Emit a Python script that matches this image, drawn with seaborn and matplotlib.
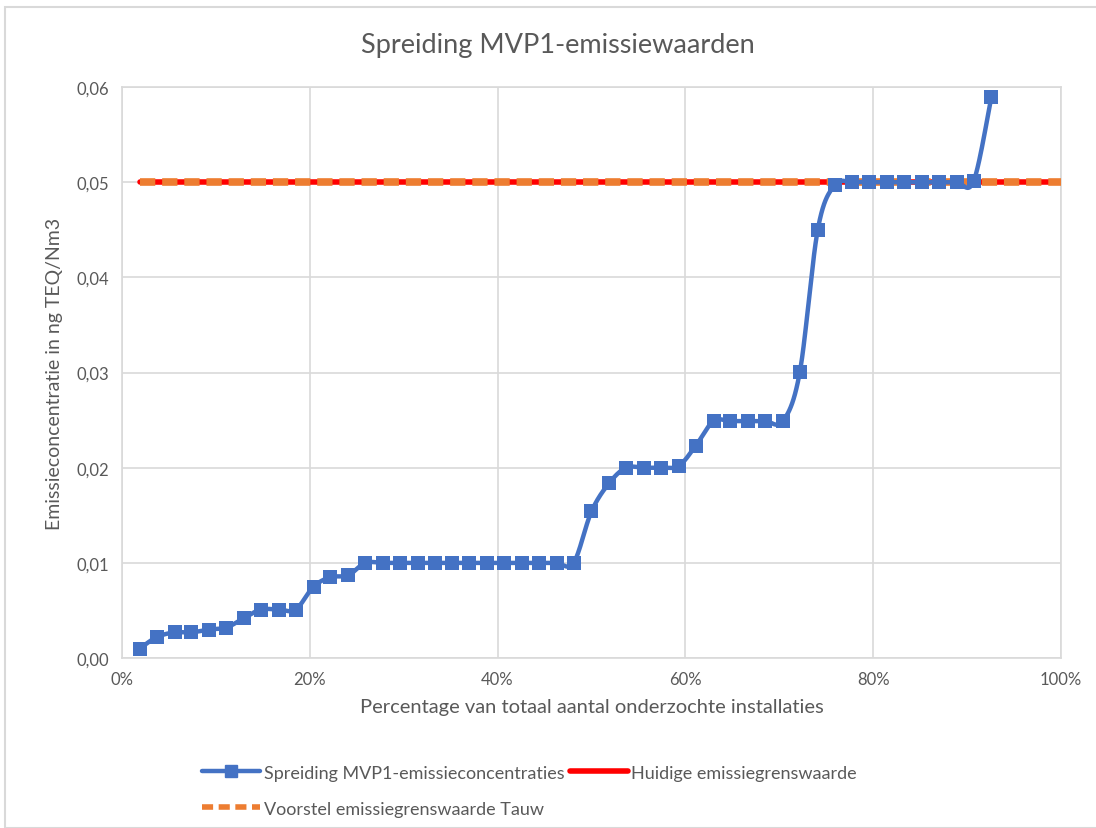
# -*- coding: utf-8 -*-
"""
Spreiding MVP1-emissiewaarden: gesorteerde emissieconcentraties per installatie
"""

# Imports
import numpy as np
import matplotlib
matplotlib.use('Agg')
import matplotlib.pyplot as plt
from matplotlib.lines import Line2D
from matplotlib.patches import Rectangle
from matplotlib.ticker import FuncFormatter, MultipleLocator
import seaborn as sns

# Data
percentage = [1.9, 3.7, 5.6, 7.4, 9.3, 11.1, 13.0, 14.8, 16.7, 18.5,
              20.4, 22.2, 24.1, 25.9, 27.8, 29.6, 31.5, 33.3, 35.2, 37.0,
              38.9, 40.7, 42.6, 44.4, 46.3, 48.1, 50.0, 51.9, 53.7, 55.6,
              57.4, 59.3, 61.1, 63.0, 64.8, 66.7, 68.5, 70.4, 72.2, 74.1,
              75.9, 77.8, 79.6, 81.5, 83.3, 85.2, 87.0, 88.9, 90.7, 92.6]
concentratie = [0.0010, 0.0022, 0.0027, 0.0027, 0.0030, 0.0032, 0.0042, 0.0051, 0.0051, 0.0051,
                0.0075, 0.0085, 0.0087, 0.0100, 0.0100, 0.0100, 0.0100, 0.0100, 0.0100, 0.0100,
                0.0100, 0.0100, 0.0100, 0.0100, 0.0100, 0.0100, 0.0154, 0.0184, 0.0200, 0.0200,
                0.0200, 0.0202, 0.0223, 0.0249, 0.0249, 0.0249, 0.0249, 0.0249, 0.0301, 0.0450,
                0.0497, 0.0500, 0.0500, 0.0500, 0.0500, 0.0500, 0.0500, 0.0500, 0.0501, 0.0590]
grens_x = [1.9, 100.0]
huidige_grens = [0.05, 0.05]
voorstel_tauw = [0.05, 0.05]

BLAUW = '#4472c4'
ROOD = '#ff0000'
ORANJE = '#ed7d31'
GRIJS = '#595959'
RASTER = '#d9d9d9'


def excel_smooth(x, y, steps=24):
    ''' Excel-achtige gladde lijn (Catmull-Rom / Bezier) door de punten'''
    x = np.asarray(x, float)
    y = np.asarray(y, float)
    px = np.concatenate([[x[0]], x, [x[-1]]])
    py = np.concatenate([[y[0]], y, [y[-1]]])
    xs, ys = [], []
    t = np.linspace(0, 1, steps, endpoint=False)
    for i in range(1, len(px) - 2):
        p0 = np.array([px[i], py[i]])
        p3 = np.array([px[i + 1], py[i + 1]])
        b1 = p0 + (p3 - np.array([px[i - 1], py[i - 1]])) / 6
        b2 = p3 - (np.array([px[i + 2], py[i + 2]]) - p0) / 6
        pts = (((1 - t) ** 3)[:, None] * p0 + (3 * (1 - t) ** 2 * t)[:, None] * b1
               + (3 * (1 - t) * t ** 2)[:, None] * b2 + (t ** 3)[:, None] * p3)
        xs.extend(pts[:, 0])
        ys.extend(pts[:, 1])
    xs.append(x[-1])
    ys.append(y[-1])
    return np.array(xs), np.array(ys)


def main():
    sns.set_style('white')
    plt.rcParams['font.family'] = ['Lato', 'DejaVu Sans']

    fig = plt.figure(figsize=(10.96, 8.29), dpi=100)
    ax = fig.add_axes([0.1113, 0.205, 0.8567, 0.6888])

    # Kader rond de grafiek
    fig.patches.append(Rectangle((5 / 1096, 0), 1.2, 1 - 8 / 829, transform=fig.transFigure,
                                 fill=False, edgecolor=RASTER, linewidth=1.5))

    # Grenswaarden
    sns.lineplot(x=grens_x, y=huidige_grens, ax=ax, color=ROOD, linewidth=4, zorder=3)
    ax.plot(grens_x, voorstel_tauw, color=ORANJE, linewidth=5.5,
            dashes=(2.0, 0.9), zorder=4)

    # Gladde lijn + markers
    sx, sy = excel_smooth(percentage, concentratie)
    sns.lineplot(x=sx, y=sy, ax=ax, color=BLAUW, linewidth=3.2, sort=False,
                 estimator=None, zorder=5)
    sns.scatterplot(x=percentage, y=concentratie, ax=ax, color=BLAUW, marker='s',
                    s=100, linewidth=0, zorder=6)

    ax.set_xlim(0, 100)
    ax.set_ylim(0, 0.06)
    ax.xaxis.set_major_locator(MultipleLocator(20))
    ax.yaxis.set_major_locator(MultipleLocator(0.01))
    ax.xaxis.set_major_formatter(FuncFormatter(lambda v, p: f'{v:.0f}%'))
    ax.yaxis.set_major_formatter(FuncFormatter(lambda v, p: f'{v:.2f}'.replace('.', ',')))
    ax.grid(True, color=RASTER, linewidth=1.2)
    for s in ax.spines.values():
        s.set_color(RASTER)
        s.set_linewidth(1.2)
    ax.tick_params(length=0, labelsize=12, labelcolor=GRIJS, pad=9)

    ax.set_title('Spreiding MVP1-emissiewaarden', fontsize=19.5, color=GRIJS, pad=25, x=0.464)
    ax.set_xlabel('Percentage van totaal aantal onderzochte installaties',
                  fontsize=14.5, color=GRIJS, labelpad=8)
    ax.set_ylabel('Emissieconcentratie in ng TEQ/Nm3', fontsize=14, color=GRIJS, labelpad=10)

    # Legenda
    h_blauw = Line2D([], [], color=BLAUW, linewidth=3.2, marker='s', markersize=9)
    h_rood = Line2D([], [], color=ROOD, linewidth=4)
    h_oranje = Line2D([], [], color=ORANJE, linewidth=4, dashes=(2.0, 1.0))
    leg = fig.legend([h_blauw, h_oranje, h_rood],
                     ['Spreiding MVP1-emissieconcentraties',
                      'Voorstel emissiegrenswaarde Tauw',
                      'Huidige emissiegrenswaarde'],
                     ncol=2, loc='upper left', bbox_to_anchor=(0.178, 0.085),
                     frameon=False, fontsize=13, handlelength=3.2, handletextpad=0.2,
                     columnspacing=0.3, labelspacing=1.1, borderaxespad=0)
    for t in leg.get_texts():
        t.set_color(GRIJS)

    fig.savefig('out.png', dpi=100)


if __name__ == "__main__":
    main()
